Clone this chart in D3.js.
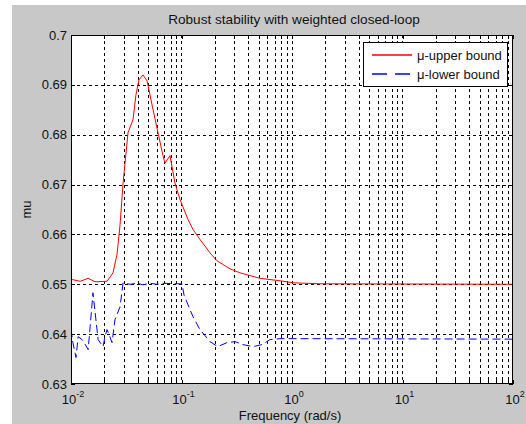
<!DOCTYPE html>
<html><head><meta charset="utf-8">
<script src="https://cdn.jsdelivr.net/npm/d3@7"></script>
<style>body{margin:0;background:#fff}svg{display:block}</style>
</head><body><svg id="c" width="526" height="424"></svg>
<script>
const chartTitle = "Robust stability with weighted closed-loop";
const xLabel = "Frequency (rad/s)";
const yLabel = "mu";
const seriesNames = ["\u03bc-upper bound", "\u03bc-lower bound"];
const seriesColors = ["#ff0000", "#0000ff"];

const upperFreq = [0.01, 0.0121, 0.0143, 0.0165, 0.0212, 0.024, 0.0261, 0.0278, 0.0296, 0.0328, 0.0364, 0.0387, 0.0412, 0.0448, 0.0488, 0.0541, 0.0613, 0.068, 0.0709, 0.0787, 0.0873, 0.0969, 0.1145, 0.127, 0.147, 0.181, 0.21, 0.275, 0.338, 0.513, 0.779, 1.02, 1.79, 100];
const upperMu = [0.6510, 0.6506, 0.6512, 0.6505, 0.6506, 0.6523, 0.6560, 0.6620, 0.6703, 0.6804, 0.6830, 0.6880, 0.6910, 0.6920, 0.6908, 0.6860, 0.6804, 0.6758, 0.6743, 0.6758, 0.6703, 0.6670, 0.6630, 0.6610, 0.6590, 0.6563, 0.6547, 0.6531, 0.6523, 0.6512, 0.6507, 0.6503, 0.6501, 0.6500];

const lowerFreq = [0.01, 0.0104, 0.0111, 0.0116, 0.0126, 0.0134, 0.0143, 0.0149, 0.0158, 0.0165, 0.0176, 0.0195, 0.0203, 0.0212, 0.0225, 0.0235, 0.025, 0.0278, 0.0296, 0.0342, 0.0396, 0.0448, 0.0519, 0.06, 0.0709, 0.0873, 0.101, 0.1055, 0.127, 0.147, 0.181, 0.213, 0.258, 0.305, 0.36, 0.444, 0.535, 0.632, 0.779, 100];
const lowerMu = [0.6410, 0.6383, 0.6353, 0.6395, 0.6389, 0.6380, 0.6369, 0.6415, 0.6483, 0.6445, 0.6389, 0.6375, 0.6395, 0.6409, 0.6395, 0.6383, 0.6429, 0.6455, 0.6503, 0.6500, 0.6502, 0.6499, 0.6502, 0.6500, 0.6502, 0.6501, 0.6501, 0.6478, 0.6435, 0.6409, 0.6385, 0.6375, 0.6383, 0.6385, 0.6379, 0.6375, 0.6379, 0.6389, 0.6391, 0.6390];

const xTickExps = [-2, -1, 0, 1, 2];
const yTicks = [0.63, 0.64, 0.65, 0.66, 0.67, 0.68, 0.69, 0.70];
const yTickLabels = ["0.63", "0.64", "0.65", "0.66", "0.67", "0.68", "0.69", "0.7"];

const FONT = "'Liberation Sans', Arial, Helvetica, sans-serif";
const FS = 13;
const svg = d3.select("#c");
const L = 71, T = 35, R = 513, B = 384;

svg.append("rect").attr("x", 12).attr("y", 5).attr("width", 514).attr("height", 419).attr("fill", "#c8c8c8");

const x = d3.scaleLog().domain([0.01, 100]).range([L, R]);
const y = d3.scaleLinear().domain([0.63, 0.70]).range([B, T]);

svg.append("rect").attr("x", L).attr("y", T).attr("width", R - L).attr("height", B - T).attr("fill", "#fff");

// x grid (major + minor)
const xMajor = xTickExps.map(e => Math.pow(10, e));
const xMinor = [];
xTickExps.slice(0, -1).forEach(e => { for (let k = 2; k <= 9; k++) xMinor.push(k * Math.pow(10, e)); });
const xAll = xMajor.concat(xMinor);

const grid = svg.append("g").attr("stroke", "#000").attr("stroke-width", 1).attr("stroke-dasharray", "3,3").attr("shape-rendering", "crispEdges");
grid.selectAll("line.vx").data(xAll.filter(v => v > 0.01 && v < 100)).join("line")
  .attr("x1", d => Math.round(x(d)) + 0.5).attr("x2", d => Math.round(x(d)) + 0.5)
  .attr("y1", T).attr("y2", B);
grid.selectAll("line.hy").data(yTicks.filter(v => v > 0.63 && v < 0.70)).join("line")
  .attr("y1", d => Math.round(y(d)) + 0.5).attr("y2", d => Math.round(y(d)) + 0.5)
  .attr("x1", L).attr("x2", R);

// ticks via d3 axes (inward)
const tl = 4;
const axB = d3.axisBottom(x).tickValues(xAll).tickSize(-tl).tickFormat("");
const axT = d3.axisTop(x).tickValues(xAll).tickSize(-tl).tickFormat("");
const axLft = d3.axisLeft(y).tickValues(yTicks).tickSize(-tl).tickFormat("");
const axRgt = d3.axisRight(y).tickValues(yTicks).tickSize(-tl).tickFormat("");
[[axB, `translate(0,${B})`], [axT, `translate(0,${T})`], [axLft, `translate(${L},0)`], [axRgt, `translate(${R},0)`]].forEach(([ax, tr]) => {
  const g = svg.append("g").attr("transform", tr).call(ax);
  g.select(".domain").remove();
  g.selectAll("line").attr("stroke", "#000").attr("shape-rendering", "crispEdges");
});

// data lines
const line = d3.line().x(d => x(d[0])).y(d => y(d[1]));
const upper = upperFreq.map((f, i) => [f, upperMu[i]]);
const lower = lowerFreq.map((f, i) => [f, lowerMu[i]]);
svg.append("clipPath").attr("id", "cp").append("rect").attr("x", L).attr("y", T).attr("width", R - L).attr("height", B - T);
svg.append("path").datum(upper).attr("d", line).attr("fill", "none").attr("stroke", seriesColors[0]).attr("stroke-width", 1).attr("clip-path", "url(#cp)");
svg.append("path").datum(lower).attr("d", line).attr("fill", "none").attr("stroke", seriesColors[1]).attr("stroke-width", 1).attr("stroke-dasharray", "8,4").attr("clip-path", "url(#cp)");

// border
svg.append("rect").attr("x", L + 0.5).attr("y", T + 0.5).attr("width", R - L - 1).attr("height", B - T - 1)
  .attr("fill", "none").attr("stroke", "#000").attr("shape-rendering", "crispEdges");

// tick labels
const yl = svg.append("g").attr("font-family", FONT).attr("font-size", FS).attr("fill", "#111");
yl.selectAll("text").data(yTicks).join("text")
  .attr("x", 67).attr("y", d => y(d) + 4.5).attr("text-anchor", "end").text((d, i) => yTickLabels[i]);

const xl = svg.append("g").attr("font-family", FONT).attr("font-size", FS).attr("fill", "#111");
xTickExps.forEach(e => {
  const t = xl.append("text").attr("x", x(Math.pow(10, e)) + 2).attr("y", 404).attr("text-anchor", "middle");
  t.append("tspan").text("10");
  t.append("tspan").attr("dy", -7).attr("font-size", 9).text(String(e));
});

// title and axis labels
svg.append("text").attr("x", 294).attr("y", 24).attr("text-anchor", "middle")
  .attr("font-family", FONT).attr("font-size", 13.6).attr("fill", "#111").text(chartTitle);
svg.append("text").attr("x", 290).attr("y", 420).attr("text-anchor", "middle")
  .attr("font-family", FONT).attr("font-size", FS).attr("fill", "#111").text(xLabel);
svg.append("text").attr("transform", `translate(31,${(T + B) / 2}) rotate(-90)`).attr("text-anchor", "middle")
  .attr("font-family", FONT).attr("font-size", FS).attr("fill", "#111").text(yLabel);

// legend
const lg = svg.append("g");
lg.append("rect").attr("x", 363.5).attr("y", 42.5).attr("width", 144).attr("height", 44)
  .attr("fill", "#fff").attr("stroke", "#000").attr("shape-rendering", "crispEdges");
const dashes = ["none", "15,8"];
seriesNames.forEach((n, i) => {
  const yy = 55 + i * 19;
  lg.append("path").attr("d", `M372,${yy}L412,${yy}`).attr("fill", "none")
    .attr("stroke", seriesColors[i]).attr("stroke-width", 1.3).attr("stroke-dasharray", dashes[i]);
  lg.append("text").attr("x", 417).attr("y", yy + 4.5).attr("font-family", FONT).attr("font-size", FS)
    .attr("fill", "#111").text(n);
});
</script></body></html>
